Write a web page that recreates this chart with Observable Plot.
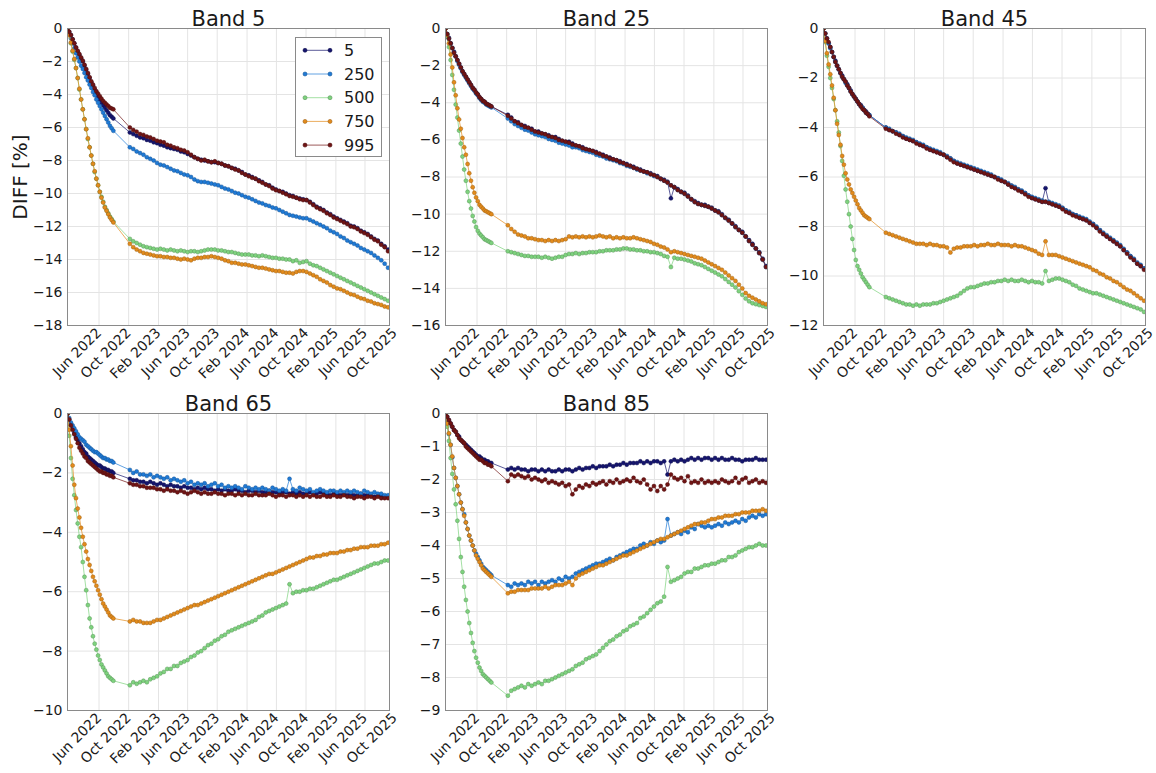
<!DOCTYPE html>
<html>
<head>
<meta charset="utf-8">
<script src="https://cdn.jsdelivr.net/npm/d3@7"></script>
<script src="https://cdn.jsdelivr.net/npm/@observablehq/plot@0.6"></script>
<style>
  html, body { margin: 0; padding: 0; background: #fff; }
  #chart { position: relative; width: 1156px; height: 773px; font-family: "DejaVu Sans", sans-serif; overflow: hidden; }
  .panel { position: absolute; }
</style>
</head>
<body>
<div id="chart"></div>
<script>
// ---------- observation dates (segment before and after the data gap) ----------
const datesA = ["2022-01-22","2022-01-29","2022-02-05","2022-02-12","2022-02-19","2022-02-26","2022-03-05","2022-03-12","2022-03-19","2022-03-26","2022-04-02","2022-04-09","2022-04-16","2022-04-23","2022-04-30","2022-05-07","2022-05-14","2022-05-21","2022-05-28","2022-06-04","2022-06-11","2022-06-18","2022-06-25","2022-07-02","2022-07-09","2022-07-16","2022-07-23","2022-07-30"];
const datesB = ["2022-10-06","2022-10-20","2022-11-03","2022-11-17","2022-12-01","2022-12-15","2022-12-29","2023-01-12","2023-01-26","2023-02-09","2023-02-23","2023-03-09","2023-03-23","2023-04-06","2023-04-20","2023-05-04","2023-05-18","2023-06-01","2023-06-15","2023-06-29","2023-07-13","2023-07-27","2023-08-10","2023-08-24","2023-09-07","2023-09-21","2023-10-05","2023-10-19","2023-11-02","2023-11-16","2023-11-30","2023-12-14","2023-12-28","2024-01-11","2024-01-25","2024-02-08","2024-02-22","2024-03-07","2024-03-21","2024-04-04","2024-04-18","2024-05-02","2024-05-16","2024-05-30","2024-06-13","2024-06-27","2024-07-11","2024-07-25","2024-08-08","2024-08-22","2024-09-05","2024-09-19","2024-10-03","2024-10-17","2024-10-31","2024-11-14","2024-11-28","2024-12-12","2024-12-26","2025-01-09","2025-01-23","2025-02-06","2025-02-20","2025-03-06","2025-03-20","2025-04-03","2025-04-17","2025-05-01","2025-05-15","2025-05-29","2025-06-12","2025-06-26","2025-07-10","2025-07-24","2025-08-07","2025-08-21","2025-09-04"];

const seriesNames = ["5", "250", "500", "750", "995"];
const seriesColors = ["#15156e", "#1f7ad6", "#7ed37e", "#e38b1c", "#701414"];
const bandTitles = ["Band 5", "Band 25", "Band 45", "Band 65", "Band 85"];
const bandYMin = [-18, -16, -12, -10, -9];
const bandYStep = [2, 2, 2, 2, 1];
const xTickDates = ["2022-06-01","2022-10-01","2023-02-01","2023-06-01","2023-10-01","2024-02-01","2024-06-01","2024-10-01","2025-02-01","2025-06-01","2025-10-01"];
const xDomainDates = ["2022-01-22", "2025-09-10"];
const yLabel = "DIFF [%]";

// ---------- Band 5 ----------
const b5_s5 = [0,-0.2,-0.4,-0.65,-0.9,-1.15,-1.4,-1.6,-1.8,-2.0,-2.25,-2.5,-2.75,-3.0,-3.25,-3.45,-3.7,-3.9,-4.1,-4.3,-4.5,-4.65,-4.8,-4.95,-5.1,-5.25,-5.35,-5.45,
-6.3,-6.4,-6.5,-6.6,-6.65,-6.75,-6.8,-6.9,-6.95,-7.05,
-7.1,-7.2,-7.25,-7.3,-7.35,-7.45,-7.5,-7.6,-7.7,-7.8,
-7.9,-7.95,-8.0,-8.05,-8.1,-8.1,-8.15,-8.2,-8.3,-8.35,
-8.45,-8.5,-8.6,-8.7,-8.85,-8.9,-9.0,-9.1,-9.2,-9.3,
-9.45,-9.5,-9.65,-9.75,-9.85,-9.9,-10.0,-10.1,-10.15,-10.25,
-10.3,-10.35,-10.4,-10.5,-10.65,-10.8,-10.9,-11.0,-11.15,-11.25,
-11.4,-11.5,-11.6,-11.7,-11.8,-11.95,-12.0,-12.1,-12.25,-12.35,
-12.45,-12.6,-12.75,-12.85,-13.05,-13.2,-13.4];
const b5_s250 = [0,-0.3,-0.6,-0.9,-1.2,-1.5,-1.75,-2.0,-2.25,-2.45,-2.7,-2.95,-3.15,-3.4,-3.6,-3.85,-4.05,-4.3,-4.5,-4.7,-4.9,-5.1,-5.3,-5.5,-5.7,-5.9,-6.05,-6.2,
-7.2,-7.3,-7.45,-7.55,-7.65,-7.8,-7.9,-8.0,-8.15,-8.25,
-8.3,-8.4,-8.5,-8.6,-8.65,-8.75,-8.85,-8.9,-9.0,-9.15,
-9.25,-9.3,-9.3,-9.35,-9.4,-9.45,-9.5,-9.6,-9.7,-9.75,
-9.85,-9.95,-10.0,-10.1,-10.2,-10.25,-10.35,-10.45,-10.55,-10.6,
-10.7,-10.75,-10.85,-10.9,-11.0,-11.1,-11.2,-11.3,-11.35,-11.4,
-11.45,-11.5,-11.5,-11.6,-11.7,-11.8,-11.9,-12.0,-12.1,-12.25,
-12.35,-12.45,-12.6,-12.7,-12.85,-12.95,-13.05,-13.15,-13.3,-13.4,
-13.5,-13.6,-13.75,-13.9,-14.05,-14.25,-14.5];
const b5_s500 = [0,-0.4,-0.9,-1.4,-1.9,-2.4,-3.0,-3.7,-4.3,-4.9,-5.5,-6.1,-6.7,-7.2,-7.7,-8.2,-8.7,-9.1,-9.5,-9.9,-10.2,-10.5,-10.8,-11.0,-11.2,-11.4,-11.55,-11.7,
-12.75,-12.9,-13.0,-13.1,-13.2,-13.25,-13.3,-13.35,-13.4,-13.35,
-13.4,-13.45,-13.4,-13.45,-13.5,-13.45,-13.5,-13.55,-13.5,-13.5,
-13.55,-13.5,-13.45,-13.4,-13.4,-13.4,-13.45,-13.45,-13.5,-13.55,
-13.55,-13.6,-13.65,-13.7,-13.7,-13.7,-13.75,-13.75,-13.8,-13.75,
-13.8,-13.85,-13.9,-13.9,-13.95,-13.95,-14.0,-14.0,-14.1,-14.05,
-14.2,-14.15,-14.1,-14.25,-14.35,-14.4,-14.5,-14.6,-14.7,-14.8,
-14.9,-15.0,-15.1,-15.2,-15.3,-15.4,-15.5,-15.6,-15.7,-15.8,
-15.9,-16.0,-16.1,-16.2,-16.3,-16.4,-16.5];
const b5_s750 = [0,-0.4,-0.85,-1.35,-1.85,-2.4,-3.0,-3.65,-4.3,-4.9,-5.5,-6.1,-6.65,-7.2,-7.7,-8.2,-8.65,-9.1,-9.5,-9.9,-10.25,-10.55,-10.85,-11.05,-11.25,-11.45,-11.6,-11.75,
-13.05,-13.25,-13.4,-13.5,-13.6,-13.65,-13.7,-13.75,-13.8,-13.8,
-13.85,-13.85,-13.9,-13.9,-13.95,-14.0,-13.95,-14.0,-14.05,-13.95,
-13.9,-13.9,-13.85,-13.85,-13.8,-13.85,-13.9,-13.95,-14.05,-14.1,
-14.2,-14.2,-14.25,-14.3,-14.3,-14.35,-14.4,-14.45,-14.5,-14.5,
-14.55,-14.6,-14.65,-14.7,-14.7,-14.75,-14.8,-14.8,-14.85,-14.75,
-14.7,-14.7,-14.75,-14.85,-14.95,-15.05,-15.2,-15.3,-15.4,-15.55,
-15.65,-15.75,-15.8,-15.9,-16.0,-16.1,-16.15,-16.25,-16.35,-16.4,
-16.5,-16.55,-16.65,-16.7,-16.75,-16.85,-16.9];
const b5_s995 = [0,-0.2,-0.4,-0.65,-0.9,-1.15,-1.35,-1.55,-1.75,-1.95,-2.2,-2.45,-2.7,-2.95,-3.2,-3.4,-3.6,-3.8,-3.95,-4.1,-4.25,-4.4,-4.5,-4.6,-4.7,-4.8,-4.85,-4.9,
-6.0,-6.15,-6.25,-6.4,-6.45,-6.55,-6.6,-6.7,-6.8,-6.85,
-6.9,-7.05,-7.1,-7.2,-7.25,-7.35,-7.4,-7.5,-7.65,-7.8,
-7.9,-8.0,-7.95,-8.05,-8.1,-8.05,-8.15,-8.2,-8.3,-8.35,
-8.45,-8.55,-8.6,-8.75,-8.85,-8.95,-9.05,-9.1,-9.25,-9.35,
-9.45,-9.55,-9.7,-9.8,-9.85,-9.95,-10.05,-10.15,-10.2,-10.25,
-10.35,-10.4,-10.4,-10.55,-10.7,-10.85,-10.95,-11.05,-11.2,-11.3,
-11.45,-11.55,-11.65,-11.75,-11.85,-12.0,-12.05,-12.15,-12.3,-12.4,
-12.5,-12.65,-12.8,-12.9,-13.1,-13.25,-13.5];

// ---------- Band 25 ----------
const b25_s5 = [0,-0.3,-0.5,-0.8,-1.05,-1.25,-1.5,-1.7,-1.9,-2.1,-2.3,-2.45,-2.6,-2.75,-2.9,-3.05,-3.2,-3.3,-3.45,-3.55,-3.7,-3.8,-3.9,-3.95,-4.05,-4.1,-4.15,-4.2,
-4.65,-4.8,-5.0,-5.05,-5.2,-5.25,-5.35,-5.4,-5.55,-5.55,
-5.65,-5.7,-5.75,-5.85,-5.85,-5.95,-6.05,-6.1,-6.1,-6.2,
-6.3,-6.35,-6.4,-6.5,-6.55,-6.6,-6.65,-6.75,-6.8,-6.9,
-6.95,-7.05,-7.1,-7.15,-7.25,-7.3,-7.4,-7.45,-7.55,-7.6,
-7.7,-7.75,-7.8,-7.9,-7.95,-8.1,-8.15,-8.25,-9.15,-8.55,
-8.65,-8.8,-8.85,-9.0,-9.2,-9.3,-9.4,-9.5,-9.5,-9.6,
-9.65,-9.8,-9.85,-10.0,-10.2,-10.3,-10.5,-10.65,-10.85,-10.95,
-11.2,-11.4,-11.6,-11.85,-12.05,-12.4,-12.8];
const b25_s250 = [0,-0.3,-0.55,-0.8,-1.05,-1.3,-1.5,-1.75,-1.95,-2.15,-2.35,-2.5,-2.65,-2.8,-2.95,-3.1,-3.25,-3.35,-3.5,-3.6,-3.75,-3.85,-3.95,-4.0,-4.1,-4.15,-4.2,-4.25,
-4.85,-5.0,-5.15,-5.25,-5.35,-5.45,-5.5,-5.6,-5.7,-5.75,
-5.8,-5.85,-5.95,-6.0,-6.05,-6.15,-6.2,-6.25,-6.3,-6.4,
-6.4,-6.45,-6.55,-6.6,-6.65,-6.7,-6.8,-6.85,-6.9,-7.0,
-7.05,-7.1,-7.15,-7.25,-7.3,-7.4,-7.45,-7.5,-7.6,-7.65,
-7.7,-7.8,-7.85,-7.95,-8.0,-8.1,-8.2,-8.3,-8.45,-8.55,
-8.7,-8.8,-8.9,-9.05,-9.2,-9.35,-9.45,-9.5,-9.55,-9.6,
-9.7,-9.8,-9.9,-10.05,-10.2,-10.35,-10.5,-10.7,-10.85,-11.0,
-11.2,-11.45,-11.65,-11.85,-12.1,-12.45,-12.85];
const b25_s500 = [0,-0.45,-1.0,-1.7,-2.5,-3.3,-4.1,-4.8,-5.5,-6.2,-6.9,-7.6,-8.2,-8.8,-9.3,-9.7,-10.1,-10.4,-10.7,-10.9,-11.05,-11.15,-11.25,-11.35,-11.4,-11.45,-11.5,-11.55,
-12.0,-12.05,-12.1,-12.15,-12.2,-12.25,-12.25,-12.3,-12.3,-12.3,
-12.35,-12.3,-12.35,-12.4,-12.35,-12.3,-12.3,-12.2,-12.15,-12.15,
-12.1,-12.15,-12.1,-12.1,-12.05,-12.05,-12.05,-12.0,-12.0,-11.95,
-11.95,-11.95,-11.9,-11.9,-11.85,-11.85,-11.9,-11.9,-11.95,-11.95,
-12.0,-12.0,-12.05,-12.05,-12.1,-12.15,-12.25,-12.3,-12.85,-12.35,
-12.4,-12.4,-12.45,-12.5,-12.55,-12.65,-12.7,-12.75,-12.85,-12.95,
-13.05,-13.15,-13.25,-13.35,-13.5,-13.65,-13.8,-13.95,-14.15,-14.35,
-14.55,-14.7,-14.8,-14.85,-14.9,-14.95,-15.0];
const b25_s750 = [0,-0.35,-0.8,-1.4,-2.1,-2.9,-3.6,-4.3,-4.9,-5.4,-5.9,-6.4,-6.8,-7.3,-7.8,-8.2,-8.55,-8.85,-9.1,-9.3,-9.5,-9.6,-9.7,-9.8,-9.85,-9.9,-9.95,-10.0,
-10.6,-10.8,-10.95,-11.1,-11.15,-11.2,-11.3,-11.3,-11.35,-11.4,
-11.4,-11.45,-11.4,-11.45,-11.4,-11.45,-11.4,-11.35,-11.2,-11.25,
-11.2,-11.25,-11.2,-11.25,-11.2,-11.25,-11.2,-11.15,-11.2,-11.25,
-11.2,-11.3,-11.25,-11.3,-11.25,-11.3,-11.3,-11.25,-11.3,-11.35,
-11.4,-11.45,-11.5,-11.6,-11.65,-11.75,-11.8,-11.9,-12.05,-12.0,
-12.05,-12.1,-12.15,-12.2,-12.25,-12.3,-12.35,-12.4,-12.5,-12.6,
-12.7,-12.8,-12.9,-13.0,-13.15,-13.3,-13.45,-13.6,-13.8,-14.0,
-14.25,-14.4,-14.5,-14.6,-14.7,-14.8,-14.85];
const b25_s995 = [0,-0.3,-0.55,-0.8,-1.05,-1.3,-1.5,-1.7,-1.9,-2.1,-2.3,-2.45,-2.6,-2.75,-2.9,-3.05,-3.2,-3.3,-3.45,-3.55,-3.7,-3.8,-3.9,-3.95,-4.05,-4.1,-4.15,-4.2,
-4.7,-4.85,-5.0,-5.1,-5.2,-5.3,-5.35,-5.45,-5.55,-5.6,
-5.65,-5.7,-5.8,-5.85,-5.9,-6.0,-6.05,-6.1,-6.15,-6.25,
-6.3,-6.35,-6.45,-6.5,-6.55,-6.6,-6.7,-6.75,-6.85,-6.9,
-7.0,-7.05,-7.1,-7.2,-7.25,-7.35,-7.4,-7.5,-7.55,-7.65,
-7.7,-7.75,-7.85,-7.9,-8.0,-8.1,-8.2,-8.3,-8.45,-8.55,
-8.7,-8.8,-8.9,-9.05,-9.2,-9.35,-9.45,-9.5,-9.55,-9.6,
-9.7,-9.8,-9.9,-10.05,-10.2,-10.35,-10.5,-10.7,-10.85,-11.0,
-11.2,-11.45,-11.65,-11.85,-12.1,-12.45,-12.85];

// ---------- Band 45 ----------
const b45_s5 = [0,-0.2,-0.4,-0.6,-0.75,-0.95,-1.15,-1.3,-1.5,-1.65,-1.8,-1.9,-2.05,-2.15,-2.25,-2.4,-2.5,-2.65,-2.75,-2.85,-2.95,-3.05,-3.1,-3.2,-3.3,-3.35,-3.45,-3.5,
-4.0,-4.1,-4.15,-4.2,-4.3,-4.35,-4.45,-4.5,-4.55,-4.6,
-4.7,-4.75,-4.8,-4.9,-4.95,-5.0,-5.05,-5.1,-5.2,-5.25,
-5.35,-5.45,-5.5,-5.55,-5.6,-5.65,-5.7,-5.75,-5.8,-5.85,
-5.9,-5.95,-6.0,-6.05,-6.15,-6.2,-6.3,-6.35,-6.45,-6.5,
-6.6,-6.65,-6.75,-6.85,-6.9,-6.95,-7.0,-6.45,-7.05,-7.1,
-7.15,-7.2,-7.25,-7.35,-7.45,-7.5,-7.55,-7.65,-7.7,-7.75,
-7.85,-7.9,-8.05,-8.15,-8.3,-8.4,-8.5,-8.6,-8.7,-8.8,
-8.95,-9.05,-9.2,-9.35,-9.5,-9.6,-9.7];
const b45_s250 = [0,-0.2,-0.4,-0.6,-0.8,-0.95,-1.15,-1.35,-1.5,-1.65,-1.8,-1.95,-2.05,-2.2,-2.3,-2.4,-2.55,-2.65,-2.75,-2.85,-2.95,-3.05,-3.15,-3.2,-3.3,-3.4,-3.45,-3.5,
-4.0,-4.05,-4.15,-4.2,-4.25,-4.35,-4.4,-4.45,-4.5,-4.6,
-4.65,-4.7,-4.8,-4.85,-4.9,-4.95,-5.0,-5.1,-5.15,-5.25,
-5.35,-5.4,-5.45,-5.5,-5.55,-5.6,-5.65,-5.7,-5.75,-5.8,
-5.85,-5.9,-6.0,-6.05,-6.1,-6.2,-6.25,-6.35,-6.4,-6.5,
-6.55,-6.65,-6.75,-6.8,-6.85,-6.9,-6.95,-7.0,-7.0,-7.05,
-7.1,-7.15,-7.25,-7.35,-7.4,-7.5,-7.55,-7.6,-7.65,-7.7,
-7.8,-7.9,-8.0,-8.15,-8.25,-8.35,-8.45,-8.55,-8.65,-8.75,
-8.9,-9.05,-9.2,-9.3,-9.45,-9.55,-9.7];
const b45_s500 = [0,-0.55,-1.1,-1.55,-2.0,-2.4,-2.85,-3.3,-3.75,-4.2,-4.75,-5.35,-5.95,-6.5,-7.0,-7.5,-8.0,-8.5,-8.95,-9.35,-9.6,-9.75,-9.9,-10.05,-10.15,-10.25,-10.35,-10.45,
-10.85,-10.9,-10.95,-11.0,-11.05,-11.1,-11.15,-11.15,-11.2,-11.15,
-11.2,-11.15,-11.15,-11.15,-11.1,-11.1,-11.05,-11.0,-10.95,-10.9,
-10.85,-10.8,-10.7,-10.6,-10.5,-10.45,-10.45,-10.4,-10.35,-10.3,
-10.3,-10.25,-10.25,-10.2,-10.2,-10.15,-10.2,-10.15,-10.2,-10.2,
-10.15,-10.2,-10.25,-10.2,-10.25,-10.25,-10.3,-9.8,-10.2,-10.15,
-10.1,-10.1,-10.15,-10.2,-10.25,-10.35,-10.4,-10.5,-10.55,-10.6,
-10.65,-10.7,-10.7,-10.75,-10.8,-10.85,-10.9,-10.95,-11.0,-11.05,
-11.1,-11.15,-11.2,-11.25,-11.3,-11.35,-11.45];
const b45_s750 = [0,-0.5,-1.0,-1.45,-1.85,-2.3,-2.8,-3.3,-3.85,-4.3,-4.7,-5.15,-5.5,-5.85,-6.1,-6.3,-6.5,-6.65,-6.8,-6.95,-7.1,-7.25,-7.35,-7.45,-7.55,-7.6,-7.65,-7.7,
-8.25,-8.3,-8.35,-8.4,-8.45,-8.5,-8.55,-8.6,-8.65,-8.7,
-8.7,-8.7,-8.75,-8.7,-8.75,-8.75,-8.8,-8.8,-8.85,-9.05,
-8.9,-8.85,-8.85,-8.8,-8.8,-8.8,-8.75,-8.8,-8.75,-8.75,
-8.7,-8.75,-8.75,-8.7,-8.75,-8.75,-8.75,-8.8,-8.75,-8.8,
-8.8,-8.85,-8.9,-8.95,-9.0,-9.1,-9.15,-8.6,-9.15,-9.15,
-9.15,-9.2,-9.25,-9.3,-9.35,-9.4,-9.45,-9.5,-9.55,-9.6,
-9.65,-9.75,-9.8,-9.9,-9.95,-10.05,-10.1,-10.2,-10.25,-10.35,
-10.45,-10.55,-10.6,-10.7,-10.8,-10.9,-11.0];
const b45_s995 = [0,-0.2,-0.4,-0.55,-0.75,-0.95,-1.15,-1.35,-1.5,-1.65,-1.8,-1.95,-2.05,-2.15,-2.3,-2.4,-2.55,-2.65,-2.75,-2.85,-2.95,-3.05,-3.15,-3.25,-3.3,-3.4,-3.45,-3.55,
-4.05,-4.1,-4.15,-4.25,-4.3,-4.4,-4.45,-4.5,-4.55,-4.65,
-4.7,-4.75,-4.85,-4.9,-4.95,-5.0,-5.05,-5.1,-5.2,-5.3,
-5.4,-5.45,-5.5,-5.55,-5.6,-5.65,-5.7,-5.75,-5.8,-5.85,
-5.9,-5.95,-6.0,-6.1,-6.15,-6.2,-6.3,-6.4,-6.45,-6.55,
-6.6,-6.7,-6.8,-6.85,-6.9,-6.95,-7.0,-7.0,-7.05,-7.1,
-7.15,-7.2,-7.3,-7.4,-7.45,-7.55,-7.6,-7.65,-7.7,-7.75,
-7.85,-7.95,-8.05,-8.2,-8.3,-8.4,-8.5,-8.6,-8.7,-8.8,
-8.95,-9.1,-9.25,-9.35,-9.5,-9.6,-9.75];

// ---------- Band 65 ----------
const b65_s5 = [0,-0.2,-0.35,-0.5,-0.65,-0.8,-0.9,-1.0,-1.1,-1.2,-1.3,-1.35,-1.45,-1.5,-1.55,-1.6,-1.65,-1.7,-1.75,-1.75,-1.8,-1.85,-1.85,-1.9,-1.9,-1.95,-1.95,-2.0,
-2.2,-2.25,-2.25,-2.3,-2.3,-2.35,-2.3,-2.35,-2.4,-2.35,
-2.4,-2.45,-2.4,-2.45,-2.45,-2.5,-2.45,-2.5,-2.5,-2.55,
-2.5,-2.55,-2.5,-2.55,-2.55,-2.6,-2.55,-2.6,-2.55,-2.6,
-2.6,-2.55,-2.6,-2.6,-2.65,-2.6,-2.6,-2.65,-2.6,-2.65,
-2.65,-2.6,-2.65,-2.65,-2.7,-2.65,-2.65,-2.7,-2.65,-2.7,
-2.65,-2.7,-2.7,-2.65,-2.7,-2.7,-2.65,-2.7,-2.7,-2.75,
-2.7,-2.7,-2.75,-2.7,-2.75,-2.7,-2.75,-2.75,-2.7,-2.75,
-2.75,-2.75,-2.8,-2.75,-2.75,-2.8,-2.8];
const b65_s250 = [0,-0.15,-0.3,-0.4,-0.5,-0.6,-0.7,-0.8,-0.85,-0.9,-0.95,-1.05,-1.1,-1.15,-1.2,-1.25,-1.3,-1.3,-1.35,-1.4,-1.45,-1.5,-1.5,-1.55,-1.55,-1.6,-1.6,-1.65,
-1.9,-2.0,-1.95,-2.05,-2.05,-2.1,-2.05,-2.15,-2.1,-2.15,
-2.2,-2.15,-2.25,-2.2,-2.25,-2.3,-2.25,-2.35,-2.3,-2.4,
-2.35,-2.4,-2.35,-2.45,-2.4,-2.35,-2.45,-2.4,-2.5,-2.45,
-2.5,-2.45,-2.5,-2.55,-2.45,-2.5,-2.55,-2.5,-2.55,-2.5,
-2.55,-2.6,-2.5,-2.55,-2.6,-2.55,-2.6,-2.2,-2.55,-2.6,
-2.5,-2.55,-2.6,-2.55,-2.65,-2.6,-2.55,-2.6,-2.65,-2.6,
-2.6,-2.65,-2.6,-2.65,-2.6,-2.65,-2.6,-2.65,-2.7,-2.6,
-2.65,-2.7,-2.65,-2.7,-2.7,-2.75,-2.75];
const b65_s500 = [0,-0.75,-1.5,-2.2,-2.75,-3.25,-3.7,-4.15,-4.5,-5.0,-5.5,-5.95,-6.45,-6.9,-7.2,-7.5,-7.75,-7.95,-8.15,-8.3,-8.45,-8.55,-8.65,-8.75,-8.85,-8.9,-8.95,-9.0,
-9.15,-9.05,-9.1,-9.05,-9.0,-9.05,-8.95,-8.9,-8.85,-8.75,
-8.7,-8.6,-8.6,-8.5,-8.5,-8.4,-8.35,-8.3,-8.2,-8.15,
-8.05,-8.0,-7.9,-7.8,-7.75,-7.65,-7.6,-7.5,-7.45,-7.35,
-7.3,-7.25,-7.2,-7.15,-7.1,-7.05,-7.0,-6.95,-6.85,-6.8,
-6.7,-6.65,-6.6,-6.55,-6.5,-6.45,-6.4,-5.75,-6.05,-6.0,
-6.0,-5.95,-5.95,-5.9,-5.9,-5.85,-5.8,-5.75,-5.7,-5.65,
-5.6,-5.6,-5.55,-5.5,-5.45,-5.4,-5.35,-5.3,-5.25,-5.2,
-5.15,-5.1,-5.05,-5.05,-5.0,-4.95,-4.95];
const b65_s750 = [0,-0.55,-1.1,-1.75,-2.4,-2.85,-3.2,-3.5,-3.85,-4.15,-4.4,-4.65,-4.9,-5.1,-5.3,-5.5,-5.65,-5.8,-5.95,-6.1,-6.25,-6.4,-6.5,-6.6,-6.7,-6.8,-6.85,-6.9,
-7.0,-6.95,-7.0,-7.0,-7.05,-7.05,-7.05,-7.0,-6.95,-6.95,
-6.9,-6.85,-6.8,-6.75,-6.7,-6.65,-6.6,-6.55,-6.5,-6.45,
-6.45,-6.4,-6.35,-6.3,-6.25,-6.2,-6.15,-6.1,-6.05,-6.0,
-5.95,-5.9,-5.85,-5.8,-5.75,-5.7,-5.65,-5.6,-5.55,-5.5,
-5.45,-5.4,-5.4,-5.35,-5.3,-5.25,-5.2,-5.15,-5.1,-5.05,
-5.0,-4.95,-4.9,-4.85,-4.85,-4.8,-4.8,-4.75,-4.75,-4.7,
-4.7,-4.7,-4.65,-4.65,-4.6,-4.6,-4.55,-4.55,-4.5,-4.5,
-4.5,-4.45,-4.45,-4.45,-4.4,-4.4,-4.35];
const b65_s995 = [0,-0.2,-0.4,-0.55,-0.7,-0.85,-1.0,-1.15,-1.25,-1.35,-1.45,-1.5,-1.6,-1.65,-1.7,-1.75,-1.8,-1.85,-1.9,-1.95,-1.95,-2.0,-2.0,-2.05,-2.05,-2.1,-2.1,-2.15,
-2.35,-2.4,-2.4,-2.45,-2.45,-2.5,-2.5,-2.5,-2.55,-2.55,
-2.6,-2.55,-2.6,-2.6,-2.65,-2.6,-2.65,-2.7,-2.65,-2.6,
-2.65,-2.7,-2.65,-2.7,-2.7,-2.65,-2.7,-2.7,-2.75,-2.7,
-2.7,-2.75,-2.7,-2.75,-2.7,-2.75,-2.75,-2.7,-2.75,-2.75,
-2.75,-2.7,-2.75,-2.8,-2.75,-2.75,-2.8,-2.75,-2.75,-2.8,
-2.75,-2.8,-2.75,-2.8,-2.75,-2.8,-2.8,-2.75,-2.8,-2.8,
-2.75,-2.8,-2.8,-2.75,-2.8,-2.8,-2.85,-2.8,-2.8,-2.85,
-2.8,-2.8,-2.85,-2.8,-2.85,-2.85,-2.85];

// ---------- Band 85 ----------
const b85_s5 = [0,-0.1,-0.2,-0.3,-0.4,-0.5,-0.55,-0.65,-0.7,-0.8,-0.85,-0.9,-0.95,-1.0,-1.05,-1.1,-1.15,-1.2,-1.25,-1.3,-1.3,-1.35,-1.4,-1.4,-1.45,-1.45,-1.5,-1.5,
-1.7,-1.65,-1.7,-1.65,-1.7,-1.7,-1.75,-1.7,-1.7,-1.75,
-1.7,-1.75,-1.7,-1.75,-1.75,-1.7,-1.75,-1.7,-1.7,-1.75,
-1.7,-1.65,-1.7,-1.65,-1.65,-1.6,-1.65,-1.6,-1.6,-1.6,
-1.55,-1.6,-1.55,-1.55,-1.5,-1.55,-1.5,-1.5,-1.5,-1.45,
-1.5,-1.45,-1.5,-1.45,-1.45,-1.5,-1.45,-1.85,-1.45,-1.4,
-1.45,-1.4,-1.45,-1.4,-1.35,-1.4,-1.35,-1.4,-1.35,-1.35,
-1.4,-1.35,-1.4,-1.35,-1.4,-1.4,-1.35,-1.4,-1.4,-1.45,
-1.4,-1.4,-1.4,-1.35,-1.4,-1.4,-1.4];
const b85_s250 = [0,-0.3,-0.62,-0.95,-1.33,-1.65,-1.95,-2.2,-2.45,-2.7,-2.9,-3.05,-3.3,-3.5,-3.7,-3.85,-4.0,-4.15,-4.25,-4.35,-4.45,-4.55,-4.65,-4.7,-4.75,-4.8,-4.85,-4.9,
-5.2,-5.25,-5.15,-5.2,-5.15,-5.2,-5.1,-5.15,-5.1,-5.2,
-5.1,-5.15,-5.1,-5.05,-5.1,-5.0,-5.05,-4.95,-5.0,-4.95,
-4.85,-4.8,-4.75,-4.7,-4.65,-4.6,-4.55,-4.55,-4.5,-4.45,
-4.4,-4.45,-4.35,-4.3,-4.25,-4.2,-4.15,-4.1,-4.1,-4.0,
-3.95,-4.0,-3.9,-3.95,-3.85,-3.9,-3.85,-3.2,-3.7,-3.65,
-3.6,-3.65,-3.55,-3.6,-3.45,-3.5,-3.35,-3.4,-3.45,-3.4,
-3.45,-3.4,-3.35,-3.4,-3.3,-3.35,-3.3,-3.25,-3.3,-3.2,
-3.25,-3.15,-3.1,-3.15,-3.05,-3.1,-3.05];
const b85_s500 = [0,-0.4,-0.83,-1.35,-1.83,-2.3,-2.75,-3.25,-3.8,-4.35,-4.8,-5.25,-5.65,-6.0,-6.35,-6.65,-6.95,-7.2,-7.4,-7.55,-7.7,-7.8,-7.9,-7.95,-8.0,-8.05,-8.1,-8.15,
-8.55,-8.4,-8.35,-8.3,-8.25,-8.3,-8.2,-8.25,-8.2,-8.15,
-8.2,-8.1,-8.1,-8.05,-8.0,-7.95,-7.9,-7.85,-7.8,-7.75,
-7.65,-7.6,-7.55,-7.45,-7.4,-7.35,-7.3,-7.2,-7.1,-7.0,
-6.9,-6.85,-6.75,-6.7,-6.6,-6.55,-6.45,-6.4,-6.35,-6.2,
-6.15,-6.05,-5.95,-5.85,-5.75,-5.7,-5.55,-4.65,-5.1,-5.05,
-5.0,-4.95,-4.85,-4.8,-4.8,-4.7,-4.7,-4.65,-4.6,-4.6,
-4.55,-4.55,-4.5,-4.45,-4.45,-4.35,-4.35,-4.3,-4.2,-4.15,
-4.1,-4.05,-4.05,-4.0,-3.95,-4.0,-4.0];
const b85_s750 = [0,-0.3,-0.6,-0.95,-1.3,-1.65,-1.95,-2.2,-2.45,-2.7,-2.9,-3.1,-3.3,-3.5,-3.7,-3.85,-4.0,-4.15,-4.3,-4.4,-4.5,-4.6,-4.7,-4.75,-4.8,-4.85,-4.9,-4.95,
-5.45,-5.4,-5.4,-5.35,-5.35,-5.35,-5.35,-5.3,-5.3,-5.3,
-5.3,-5.25,-5.3,-5.25,-5.2,-5.2,-5.2,-5.15,-5.1,-5.2,
-5.0,-4.9,-4.85,-4.8,-4.75,-4.7,-4.65,-4.6,-4.6,-4.55,
-4.5,-4.45,-4.4,-4.35,-4.3,-4.3,-4.25,-4.2,-4.15,-4.1,
-4.05,-4.0,-3.95,-3.9,-3.85,-3.8,-3.8,-3.75,-3.7,-3.65,
-3.6,-3.55,-3.5,-3.45,-3.4,-3.35,-3.35,-3.3,-3.3,-3.25,
-3.2,-3.2,-3.15,-3.15,-3.1,-3.1,-3.1,-3.05,-3.05,-3.0,
-3.0,-3.0,-2.95,-2.95,-2.95,-2.9,-2.95];
const b85_s995 = [0,-0.1,-0.2,-0.3,-0.4,-0.5,-0.55,-0.65,-0.75,-0.8,-0.85,-0.9,-1.0,-1.05,-1.1,-1.15,-1.2,-1.25,-1.3,-1.35,-1.4,-1.4,-1.45,-1.5,-1.5,-1.55,-1.55,-1.6,
-2.05,-1.85,-1.9,-1.85,-1.9,-1.95,-1.9,-2.0,-1.95,-2.0,
-2.05,-2.0,-2.1,-2.05,-2.1,-2.15,-2.1,-2.2,-2.15,-2.45,
-2.3,-2.2,-2.25,-2.15,-2.2,-2.1,-2.15,-2.1,-2.05,-2.15,
-2.05,-2.1,-2.0,-2.1,-2.05,-2.0,-2.05,-1.95,-2.05,-2.1,
-2.0,-2.15,-2.3,-2.2,-2.35,-2.2,-2.3,-2.15,-1.85,-1.95,
-2.0,-1.95,-2.05,-1.9,-2.1,-2.05,-2.1,-2.0,-2.1,-2.05,
-2.1,-2.05,-2.1,-2.0,-2.05,-2.1,-2.05,-1.95,-2.1,-2.0,
-1.95,-2.1,-2.05,-2.0,-2.1,-2.05,-2.1];

// ---------- assemble ----------
const bandSeries = [
  [b5_s5, b5_s250, b5_s500, b5_s750, b5_s995],
  [b25_s5, b25_s250, b25_s500, b25_s750, b25_s995],
  [b45_s5, b45_s250, b45_s500, b45_s750, b45_s995],
  [b65_s5, b65_s250, b65_s500, b65_s750, b65_s995],
  [b85_s5, b85_s250, b85_s500, b85_s750, b85_s995]
];
// frame placement of each panel (layout only)
const panelLeft = [67, 445, 823, 67, 445];
const panelTop = [28, 28, 28, 413, 413];
const FW = 322, FH = 297;

const dates = datesA.concat(datesB).map(s => new Date(s + "T00:00:00Z"));
const xTicks = xTickDates.map(s => new Date(s + "T00:00:00Z"));
const xDomain = xDomainDates.map(s => new Date(s + "T00:00:00Z"));
const xGrid = xTicks.filter(d => d <= xDomain[1]);
const fmtX = d3.utcFormat("%b %Y");
const fmtY = v => v === 0 ? "0" : (v < 0 ? "\u2212" + Math.abs(v) : String(v));
const FONT = '"DejaVu Sans", sans-serif';
const chart = document.getElementById("chart");

bandTitles.forEach((title, p) => {
  const series = bandSeries[p];
  const marks = [];
  const yTicks = d3.range(0, bandYMin[p] - 1e-9, -bandYStep[p]);
  marks.push(Plot.gridX(xGrid, {stroke: "#e4e4e4", strokeOpacity: 1, strokeWidth: 1}));
  marks.push(Plot.gridY(yTicks, {stroke: "#e4e4e4", strokeOpacity: 1, strokeWidth: 1}));
  series.forEach((arr, j) => {
    if (arr.length !== dates.length) throw new Error(title + " series " + seriesNames[j] + " has " + arr.length + " values");
    const rows = arr.map((v, i) => ({date: dates[i], value: v}));
    const c = seriesColors[j];
    marks.push(Plot.line(rows, {x: "date", y: "value", stroke: c, strokeWidth: 1, strokeOpacity: 0.7, clip: true}));
    marks.push(Plot.dot(rows, {x: "date", y: "value", r: 2, fill: c, stroke: d3.color(c).darker(1).formatHex(), strokeWidth: 0.6, strokeOpacity: 0.8, clip: true}));
  });
  marks.push(Plot.frame({stroke: "#8a8a8a", strokeWidth: 1}));
  marks.push(Plot.axisX(xTicks, {tickSize: 0, tickPadding: 5, tickRotate: -45, tickFormat: fmtX, label: null, fontSize: 14, fill: "#1a1a1a"}));
  marks.push(Plot.axisY(yTicks, {tickSize: 0, tickPadding: 5, tickFormat: fmtY, label: null, fontSize: 14, fill: "#1a1a1a"}));
  marks.push(Plot.text([title], {frameAnchor: "top", lineAnchor: "middle", textAnchor: "middle", dy: -9, fontSize: 21, fill: "#1a1a1a"}));
  if (p === 0) marks.push(Plot.text([yLabel], {frameAnchor: "left", lineAnchor: "middle", textAnchor: "middle", dx: -47, rotate: -90, fontSize: 20, fill: "#1a1a1a"}));

  const ml = p === 0 || p === 3 ? 67 : 55, mr = 12, mt = 30, mb = 62;
  const svg = Plot.plot({
    width: ml + FW + mr, height: mt + FH + mb,
    marginLeft: ml, marginRight: mr, marginTop: mt, marginBottom: mb,
    style: {fontFamily: FONT, fontSize: "14px", background: "transparent", overflow: "visible"},
    x: {type: "utc", domain: xDomain},
    y: {domain: [bandYMin[p], 0]},
    marks
  });
  const div = document.createElement("div");
  div.className = "panel";
  div.style.left = (panelLeft[p] - ml) + "px";
  div.style.top = (panelTop[p] - mt) + "px";
  div.style.width = (ml + FW + mr) + "px";
  div.appendChild(svg);
  chart.appendChild(div);
});

// ---------- legend (inside Band 5 panel, upper right) ----------
const lg = d3.select(chart).append("div")
  .style("position", "absolute").style("left", "295px").style("top", "37px")
  .style("width", "85px").style("height", "118px")
  .style("border", "1px solid #8a8a8a").style("background", "#fff");
const lsvg = lg.append("svg").attr("width", 85).attr("height", 118).style("display", "block");
seriesNames.forEach((name, j) => {
  const y = 12.3 + 23.7 * j;
  const c = seriesColors[j];
  const g = lsvg.append("g");
  g.append("line").attr("x1", 9).attr("x2", 34).attr("y1", y).attr("y2", y)
    .attr("stroke", c).attr("stroke-opacity", 0.7).attr("stroke-width", 1);
  [9, 34].forEach(x => g.append("circle").attr("cx", x).attr("cy", y).attr("r", 2)
    .attr("fill", c).attr("stroke", d3.color(c).darker(1).formatHex()).attr("stroke-width", 0.6));
  g.append("text").attr("x", 48).attr("y", y).attr("dy", "0.35em")
    .attr("font-family", FONT).attr("font-size", 16).attr("fill", "#1a1a1a").text(name);
});
</script>
</body>
</html>
